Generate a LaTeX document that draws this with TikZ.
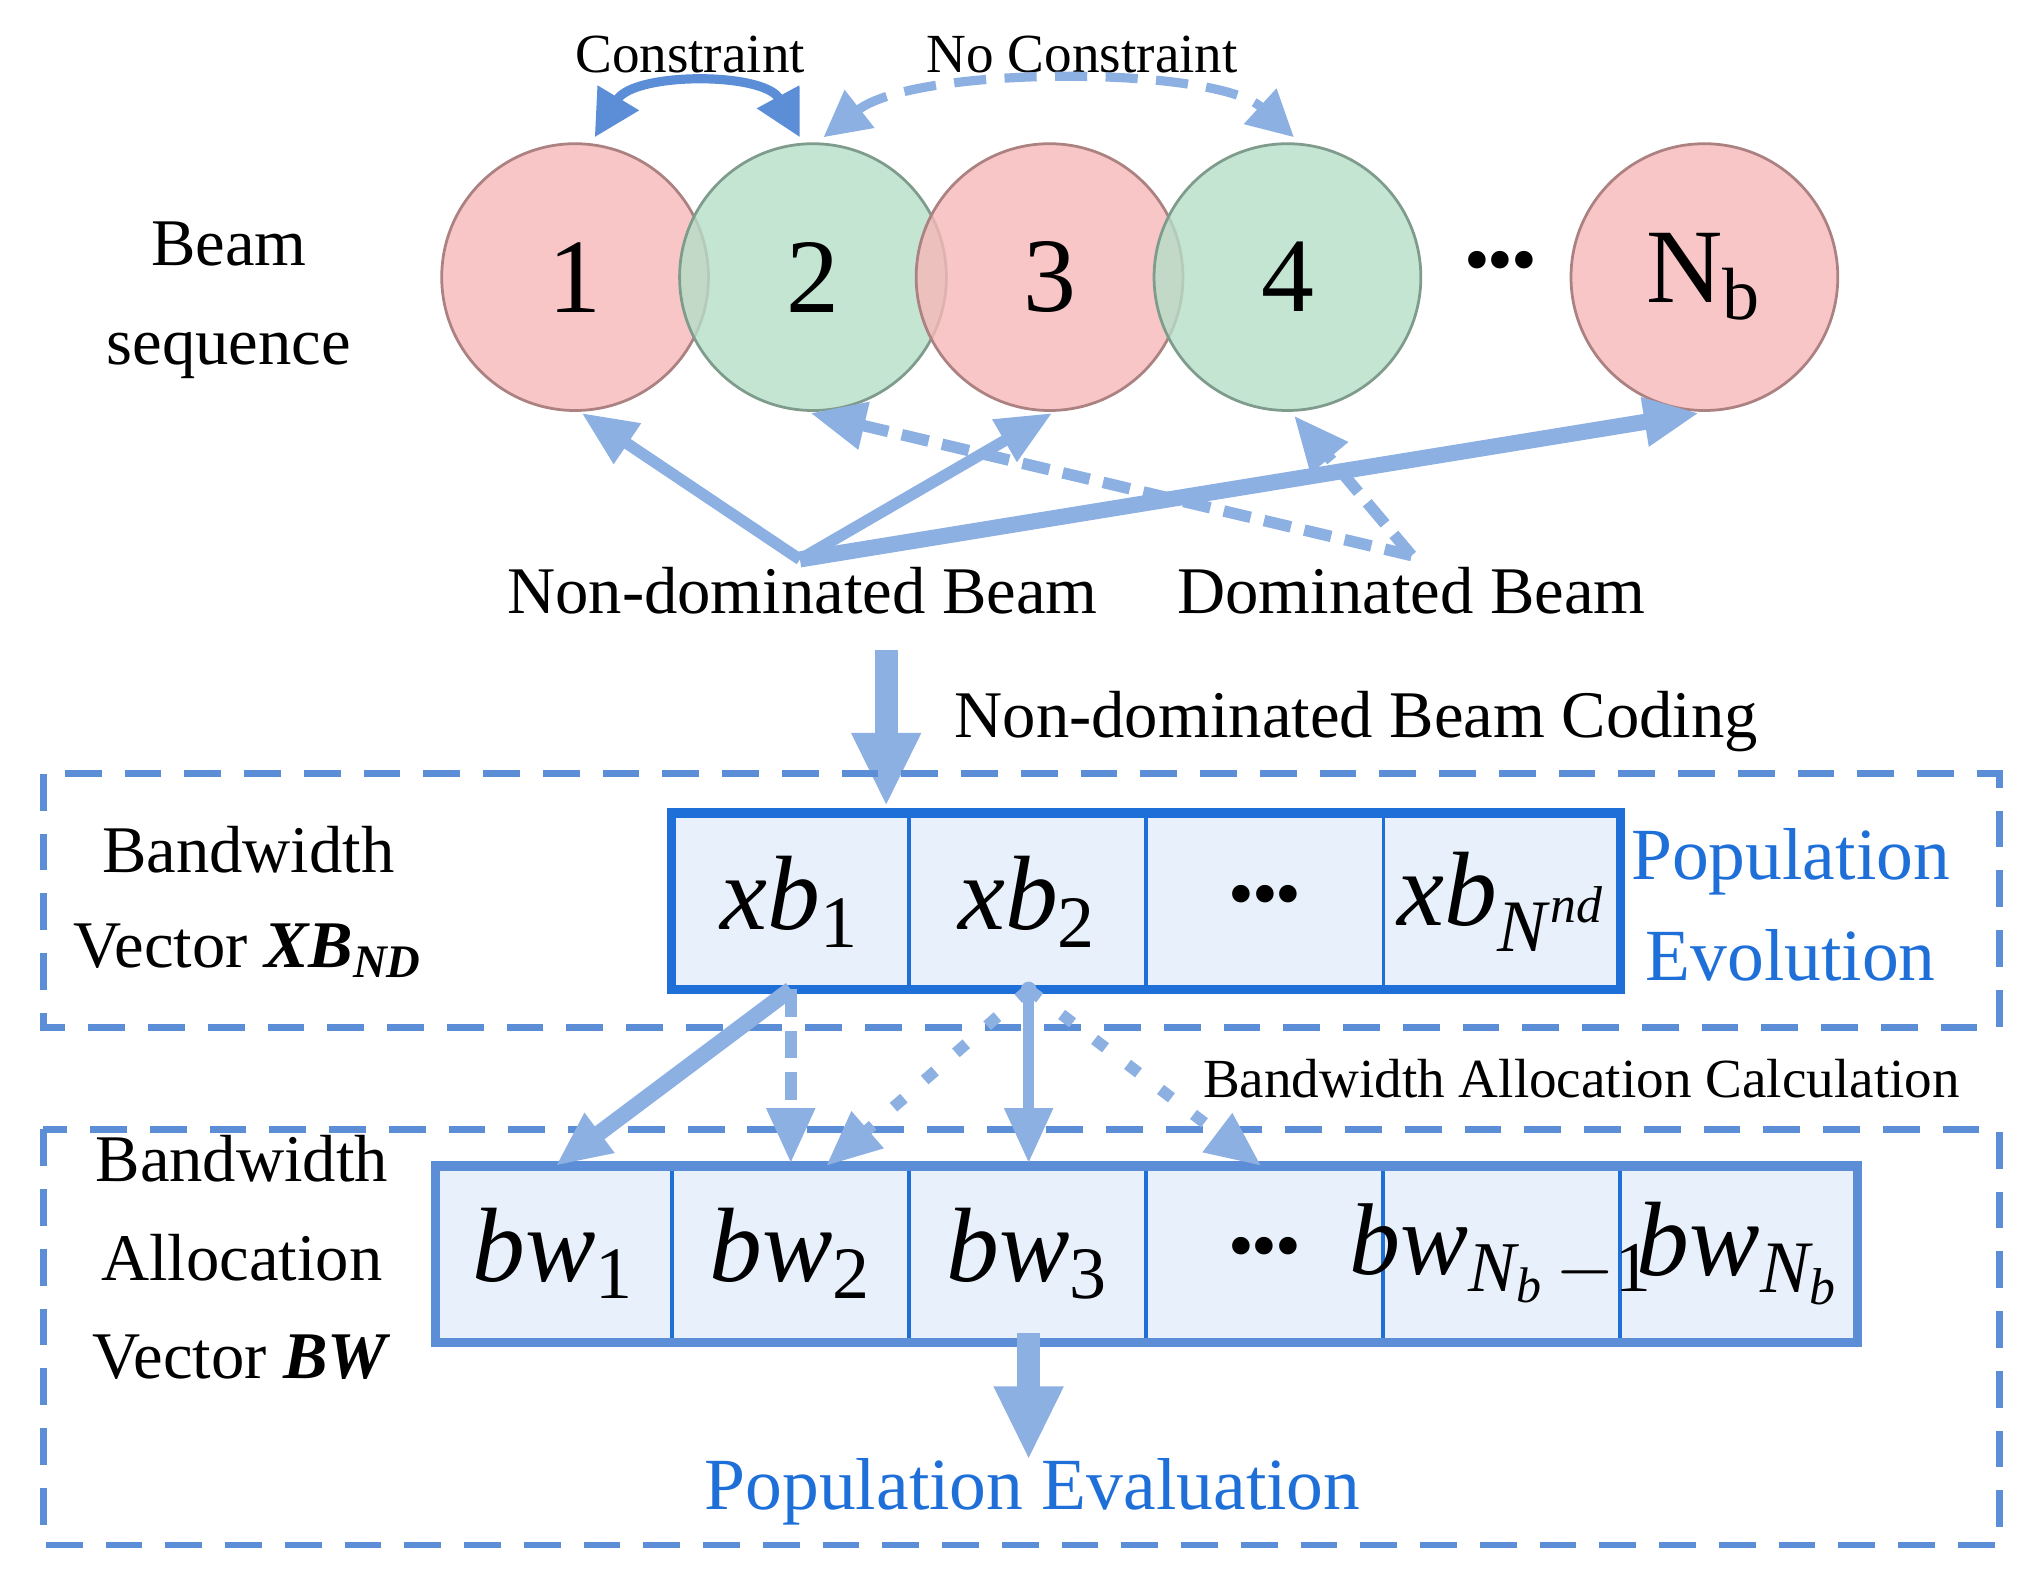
\documentclass[tikz,border=0pt]{standalone}
\usepackage{fontspec}
\setmainfont{Liberation Serif}
\usetikzlibrary{arrows.meta}
\definecolor{pk}{HTML}{F6B8B8}
\definecolor{gr}{HTML}{B6DEC8}
\definecolor{ab}{HTML}{8DB0E3}
\definecolor{bb}{HTML}{1F6FD9}
\definecolor{db}{HTML}{5B8ED6}
\definecolor{cf}{HTML}{E8F0FB}
\newcommand{\vx}[2]{\textit{#1}\textsubscript{#2}}
\newcommand{\mydots}{{\fontsize{16}{18}\selectfont\textbullet\kern-0.5pt\textbullet\kern-0.5pt\textbullet}}
\begin{document}
\begin{tikzpicture}[x=0.01cm,y=-0.01cm,
  beam/.style={circle,minimum size=2.04cm,inner sep=0pt,line width=0.6pt,font=\fontsize{23}{26}\selectfont,fill opacity=0.8,text opacity=1},
  pkb/.style={beam,fill=pk,draw=pk!70!black},
  grb/.style={beam,fill=gr,draw=gr!70!black},
  lbl/.style={font=\fontsize{14.5}{17.5}\selectfont,align=center},
  sml/.style={font=\fontsize{12}{14}\selectfont},
  arr/.style={draw=ab,line width=2.5pt,-{Triangle[length=12pt,width=10pt]}},
  dsh/.style={arr,dash pattern=on 6pt off 3pt},
  dot/.style={arr,dash pattern=on 3pt off 6pt},
  cell/.style={draw=bb,fill=cf,line width=0.8pt},
  ctext/.style={font=\fontsize{23}{26}\selectfont},
  box/.style={draw=db,line width=1.5pt,dash pattern=on 8pt off 5pt}]
\useasboundingbox (0,0) rectangle (1560,1214);
\foreach \n/\x/\s/\t in {c1/440/pkb/1,c2/622/grb/2,c3/803/pkb/3,c4/985/grb/4,cn/1304/pkb/{N\textsubscript{b}}}
  \node[\s] (\n) at (\x,212) {\t};
\node (dots) at (1148,205) {\mydots};
\node[lbl] (bs) at (175,230) {Beam\\[4pt]sequence};
\node[sml] (con) at (528,42) {Constraint};
\node[sml] (ncon) at (828,42) {No Constraint};
\coordinate (a1) at (455,105); \coordinate (a2) at (612,105);
\coordinate (a3) at (630,105); \coordinate (a4) at (990,105);
\draw[draw=db,line width=2pt,{Triangle[length=10pt,width=10pt]}-{Triangle[length=10pt,width=10pt]}] (a1) .. controls (485,55) and (585,55) .. (a2);
\draw[draw=ab,line width=2pt,dash pattern=on 7pt off 4pt,{Triangle[length=10pt,width=10pt]}-{Triangle[length=10pt,width=10pt]}] (a3) .. controls (700,50) and (930,50) .. (a4);
\node[lbl] (nd) at (614,452) {Non-dominated Beam};
\node[lbl] (dm) at (1080,452) {Dominated Beam};
\coordinate (ndo) at (612,428); \coordinate (dmo) at (1080,425);
\draw[arr] (ndo) -- (445,316);
\draw[arr] (ndo) -- (805,316);
\draw[arr,line width=3.5pt] (ndo) -- (1300,316);
\draw[dsh] (dmo) -- (620,316);
\draw[dsh] (dmo) -- (990,318);
\coordinate (ct) at (678,497);
\draw[arr,line width=5pt,-{Triangle[length=16pt,width=14pt]}] (ct) -- (678,617);
\node[lbl,anchor=west] (cod) at (718,552) {Non-dominated Beam Coding};
\draw[box] (33,592) rectangle (1530,786);
\draw[box] (33,864) rectangle (1530,1182);
\node[lbl] (bv) at (190,690) {Bandwidth\\[3pt]Vector \textbf{\textit{XB}}\textsubscript{\textbf{\textit{ND}}}};
\node[lbl] (bav) at (185,962) {Bandwidth\\[4pt]Allocation\\[4pt]Vector \textbf{\textit{BW}}};
% XB row
\foreach \i in {1,...,4}
  \draw[cell] ({514+181.5*(\i-1)},622) rectangle ({514+181.5*\i},757);
\foreach \i/\t in {1/{\vx{xb}{1}},2/{\vx{xb}{2}},3/{\mydots},4/{\textit{xb}\textsubscript{\textit{N}\textsuperscript{\textit{nd}}}}}
  \node[ctext] (x\i) at ({514+181.5*(\i-0.5)},690) {\t};
\draw[bb,line width=2pt] (514,622) rectangle (1240,757);
\node[font=\fontsize{16}{22}\selectfont,text=bb,align=center] (pe) at (1370,692) {Population\\Evolution};
% BW row
\foreach \i in {1,...,6}
  \draw[cell] ({333+181.3*(\i-1)},892) rectangle ({333+181.3*\i},1027);
\foreach \i/\t in {1/{\vx{bw}{1}},2/{\vx{bw}{2}},3/{\vx{bw}{3}},4/{\mydots},6/{\textit{bw}\textsubscript{\textit{N\textsubscript{b}}}}}
  \node[ctext] (b\i) at ({333+181.3*(\i-0.5)},959) {\t};
\node[ctext,inner sep=0pt] (b5) at ({333+181.3*4.5},959) {\resizebox{165\pgflinewidth}{!}{\textit{bw}\textsubscript{\textit{N\textsubscript{b}}\,$-$1}}};
\draw[db,line width=2pt] (333,892) rectangle (1421,1027);
\coordinate (s1) at (605,757); \coordinate (s2) at (787,757);
\draw[arr,line width=3.5pt] (s1) -- (425,892);
\draw[dsh] (s1) -- (605,890);
\draw[dot] (s2) -- (632,892);
\draw[arr] (s2) -- (787,890);
\draw[dot] (s2) -- (965,892);
\fill[ab] (s2) circle (6);
\node[sml,anchor=west] (bac) at (908,825) {Bandwidth Allocation Calculation};
\coordinate (ev) at (787,1020);
\draw[arr,line width=5pt,-{Triangle[length=16pt,width=14pt]}] (ev) -- (787,1117);
\node[font=\fontsize{16}{20}\selectfont,text=bb] (pev) at (790,1141) {Population Evaluation};
\end{tikzpicture}
\end{document}
